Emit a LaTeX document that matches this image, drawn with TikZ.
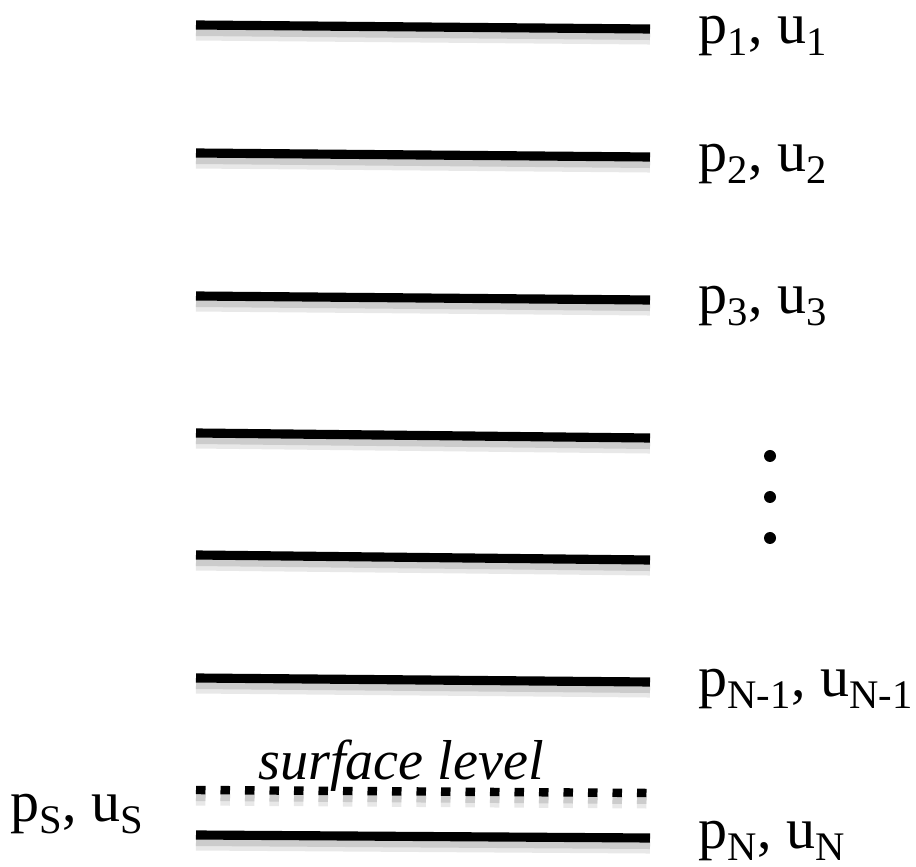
\documentclass[tikz,border=0pt]{standalone}
\usepackage{fontspec}
\setmainfont{Liberation Serif}
\usepackage{tikz}
\usetikzlibrary{positioning}
\tikzset{
	% livello del modello (linea spessa)
	livello/.style={line width=5.2pt, black},
	% ombra sfumata sotto ogni livello: alone largo + nucleo
	ombra/.style={line width=8pt, black!9, transform canvas={yshift=-0.17cm}},
	ombranucleo/.style={line width=4pt, black!20, transform canvas={yshift=-0.15cm}},
	% livello di superficie (tratteggiato)
	tratto/.style={dash pattern=on 0.19cm off 0.30cm},
	superficie/.style={line width=4.8pt, black, tratto},
	% etichetta p, u
	etich/.style={anchor=base west, inner sep=0pt, font=\fontsize{33}{38}\selectfont},
	% puntini verticali
	punto/.style={circle, fill=black, inner sep=0pt, minimum size=0.24cm},
}

\begin{document}
\begin{tikzpicture}
    \useasboundingbox (0,0) rectangle (18.32,17.34);

    % ---------------- estremi dei livelli ----------------
    \coordinate (l1w) at (3.92,16.84); \coordinate (l1e) at (13.0,16.76);
    \coordinate (l2w) at (3.92,14.28); \coordinate (l2e) at (13.0,14.20);
    \coordinate (l3w) at (3.92,11.42); \coordinate (l3e) at (13.0,11.34);
    \coordinate (l4w) at (3.92,8.68);  \coordinate (l4e) at (13.0,8.58);
    \coordinate (l5w) at (3.92,6.24);  \coordinate (l5e) at (13.0,6.14);
    \coordinate (l6w) at (3.92,3.78);  \coordinate (l6e) at (13.0,3.70);
    \coordinate (lsw) at (3.92,1.54);  \coordinate (lse) at (13.0,1.48);
    \coordinate (lnw) at (3.92,0.64);  \coordinate (lne) at (13.0,0.58);

    % ---------------- ombre ----------------
    \draw[ombra] (l1w) -- (l1e);  \draw[ombranucleo] (l1w) -- (l1e);
    \draw[ombra] (l2w) -- (l2e);  \draw[ombranucleo] (l2w) -- (l2e);
    \draw[ombra] (l3w) -- (l3e);  \draw[ombranucleo] (l3w) -- (l3e);
    \draw[ombra] (l4w) -- (l4e);  \draw[ombranucleo] (l4w) -- (l4e);
    \draw[ombra] (l5w) -- (l5e);  \draw[ombranucleo] (l5w) -- (l5e);
    \draw[ombra] (l6w) -- (l6e);  \draw[ombranucleo] (l6w) -- (l6e);
    \draw[ombra, tratto] (lsw) -- (lse);  \draw[ombranucleo, tratto] (lsw) -- (lse);
    \draw[ombra] (lnw) -- (lne);  \draw[ombranucleo] (lnw) -- (lne);

    % ---------------- livelli ----------------
    \draw[livello] (l1w) -- (l1e);
    \draw[livello] (l2w) -- (l2e);
    \draw[livello] (l3w) -- (l3e);
    \draw[livello] (l4w) -- (l4e);
    \draw[livello] (l5w) -- (l5e);
    \draw[livello] (l6w) -- (l6e);
    \draw[superficie] (lsw) -- (lse);
    \draw[livello] (lnw) -- (lne);

    % ---------------- etichette ----------------
    \node[etich] (e1) at (13.96,16.46) {p\textsubscript{1}, u\textsubscript{1}};
    \node[etich] (e2) at (13.96,13.90) {p\textsubscript{2}, u\textsubscript{2}};
    \node[etich] (e3) at (13.96,11.06) {p\textsubscript{3}, u\textsubscript{3}};
    \node[etich] (e6) at (13.96,3.40) {p\textsubscript{N-1}, u\textsubscript{N-1}};
    \node[etich] (en) at (13.96,0.36) {p\textsubscript{N}, u\textsubscript{N}};
    \node[etich] (es) at (0.2,0.90) {p\textsubscript{S}, u\textsubscript{S}};
    \node[etich, font=\fontsize{32}{37}\selectfont\itshape] (sl) at (5.16,1.74) {surface level};

    % ---------------- puntini ----------------
    \node[punto] (d1) at (15.4,8.22) {};
    \node[punto] (d2) at (15.4,7.40) {};
    \node[punto] (d3) at (15.4,6.58) {};
  \end{tikzpicture}
\end{document}
